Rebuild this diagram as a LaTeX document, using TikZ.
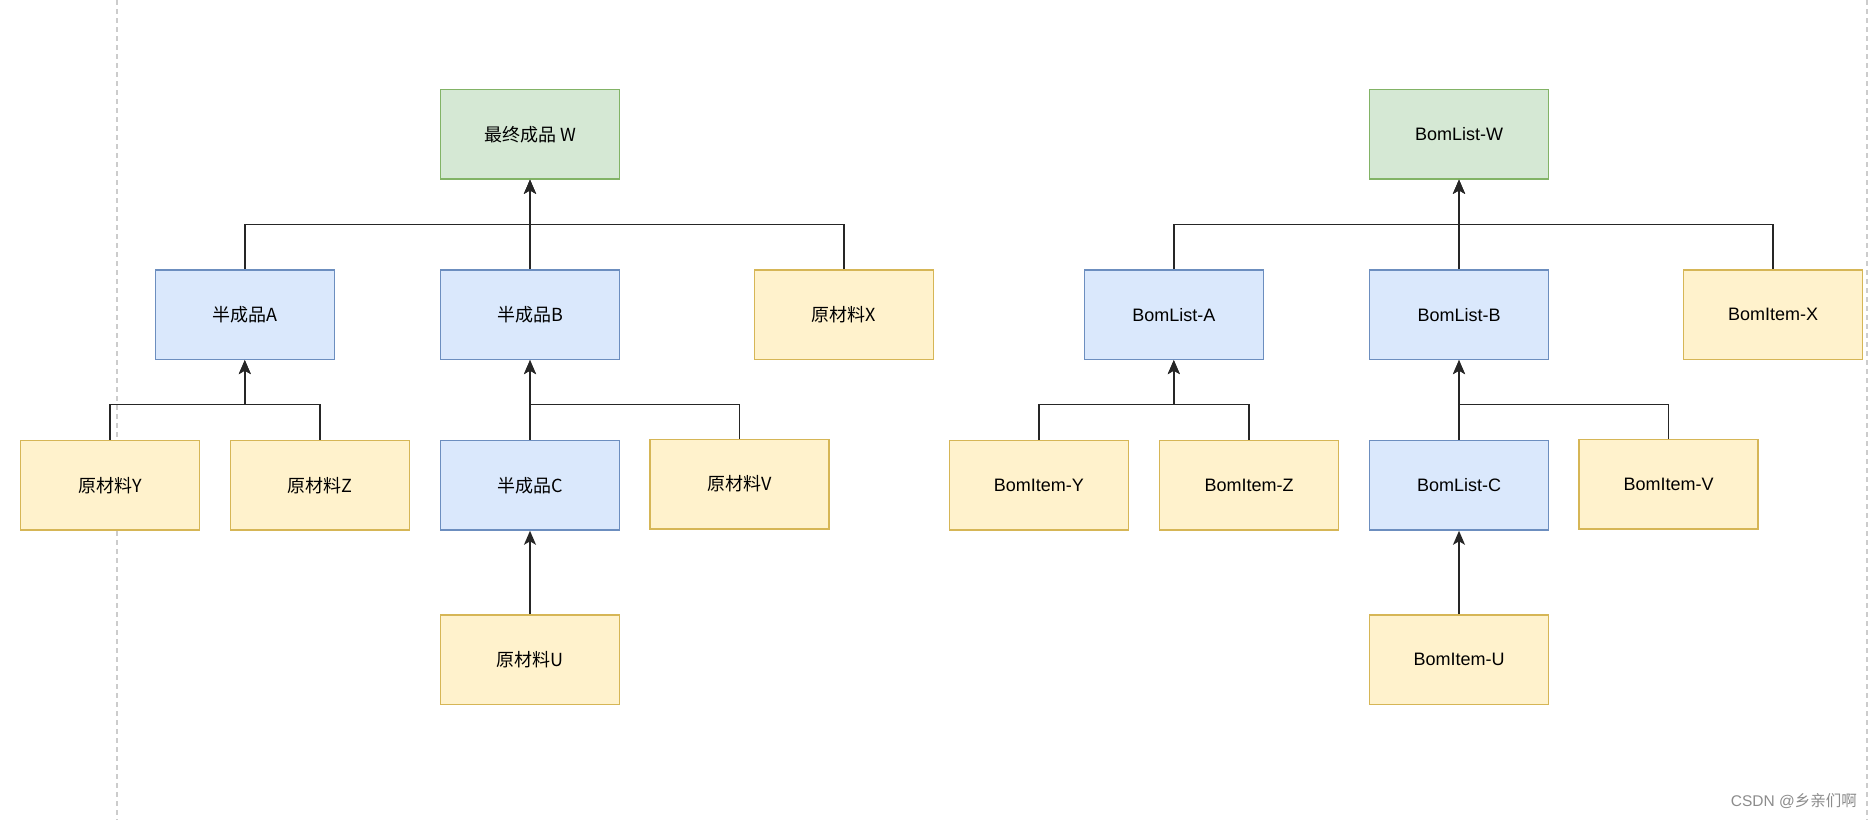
\documentclass[tikz,border=0pt]{standalone}
\usepackage{fontspec}
\setmainfont{Liberation Sans}
\newfontfamily\cjk{Noto Sans CJK SC}
\usetikzlibrary{arrows.meta}
\definecolor{bfill}{HTML}{DAE8FC}\definecolor{bline}{HTML}{6C8EBF}
\definecolor{yfill}{HTML}{FFF2CC}\definecolor{yline}{HTML}{D6B656}
\definecolor{gfill}{HTML}{D5E8D4}\definecolor{gline}{HTML}{82B366}
\definecolor{guidec}{HTML}{CCCCCC}
\begin{document}
\begin{tikzpicture}[x=1pt,y=-1pt,
  box/.style={draw, line width=1.5pt, minimum width=179pt, minimum height=89.5pt, inner sep=0pt, font=\fontsize{18}{21}\selectfont},
  bluebox/.style={box, fill=bfill, draw=bline},
  yellowbox/.style={box, fill=yfill, draw=yline},
  greenbox/.style={box, fill=gfill, draw=gline},
  arr/.style={-{Stealth[length=14pt,width=12pt,inset=3.5pt]}, line width=1.5pt, draw=black!85},
  guide/.style={draw=guidec, line width=1.5pt, dash pattern=on 5pt off 4pt}]
\useasboundingbox (0,0) rectangle (1872,820);
\fill[white] (0,0) rectangle (1872,820);
\draw[guide] (117,0) -- (117,820);
\draw[guide] (1867,0) -- (1867,820);
\coordinate (bar1) at (0,224.5);
\coordinate (bar2) at (0,404.7);
% left tree
\node[greenbox] (W) at (530,134.3) {\cjk 最终成品 W};
\node[bluebox] (A) at (244.8,314.6) {\cjk 半成品A};
\node[bluebox] (B) at (530,314.6) {\cjk 半成品B};
\node[yellowbox] (X) at (844,314.6) {\cjk 原材料X};
\node[yellowbox] (Y) at (109.8,485.3) {\cjk 原材料Y};
\node[yellowbox] (Z) at (320,485.3) {\cjk 原材料Z};
\node[bluebox] (C) at (530,485.3) {\cjk 半成品C};
\node[yellowbox] (V) at (739.6,484) {\cjk 原材料V};
\node[yellowbox] (U) at (530,659.6) {\cjk 原材料U};
\draw[arr] (A.north) |- (bar1 -| W) -- (W.south);
\draw[arr] (X.north) |- (bar1 -| W) -- (W.south);
\draw[arr] (B.north) -- (W.south);
\draw[arr] (Y.north) |- (bar2 -| A) -- (A.south);
\draw[arr] (Z.north) |- (bar2 -| A) -- (A.south);
\draw[arr] (V.north) |- (bar2 -| B) -- (B.south);
\draw[arr] (C.north) -- (B.south);
\draw[arr] (U.north) -- (C.south);
% right tree
\node[greenbox] (W2) at (1459,134.3) {BomList-W};
\node[bluebox] (A2) at (1173.8,314.6) {BomList-A};
\node[bluebox] (B2) at (1459,314.6) {BomList-B};
\node[yellowbox] (X2) at (1773,314.6) {BomItem-X};
\node[yellowbox] (Y2) at (1038.8,485.3) {BomItem-Y};
\node[yellowbox] (Z2) at (1249,485.3) {BomItem-Z};
\node[bluebox] (C2) at (1459,485.3) {BomList-C};
\node[yellowbox] (V2) at (1668.6,484) {BomItem-V};
\node[yellowbox] (U2) at (1459,659.6) {BomItem-U};
\draw[arr] (A2.north) |- (bar1 -| W2) -- (W2.south);
\draw[arr] (X2.north) |- (bar1 -| W2) -- (W2.south);
\draw[arr] (B2.north) -- (W2.south);
\draw[arr] (Y2.north) |- (bar2 -| A2) -- (A2.south);
\draw[arr] (Z2.north) |- (bar2 -| A2) -- (A2.south);
\draw[arr] (V2.north) |- (bar2 -| B2) -- (B2.south);
\draw[arr] (C2.north) -- (B2.south);
\draw[arr] (U2.north) -- (C2.south);
% watermark
\node[anchor=east, inner sep=0pt, text=black!45, font=\fontsize{15.5}{18}\selectfont] (wm) at (1857,801) {CSDN @\cjk 乡亲们啊};
\end{tikzpicture}
\end{document}
